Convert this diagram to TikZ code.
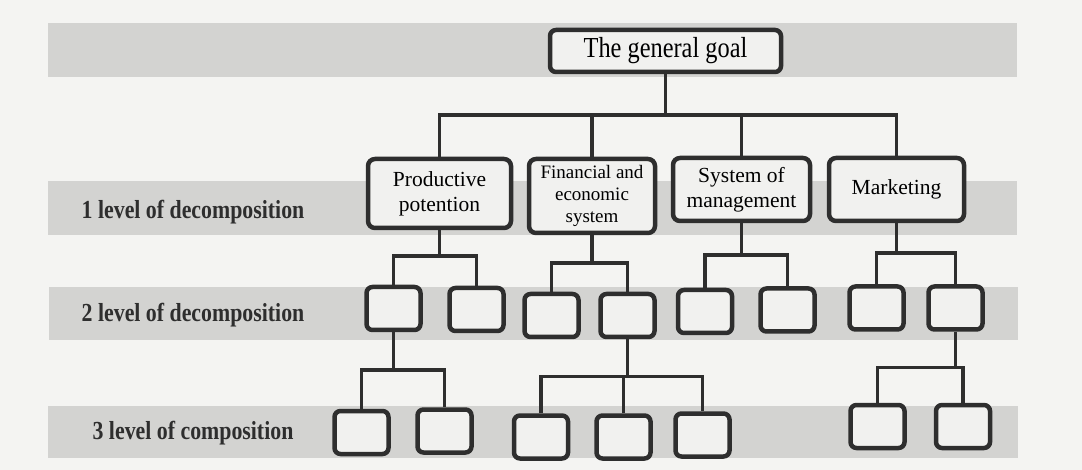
\documentclass[tikz,border=0pt]{standalone}
\usepackage{fontspec}
\setmainfont{Liberation Serif}
\newfontfamily\narrowserif[FakeStretch=0.84]{Liberation Serif}
\usepackage{tikz}
\usetikzlibrary{positioning}
\definecolor{ChartInk}{HTML}{2E2E2E}
\definecolor{ChartPaper}{HTML}{F4F4F2}
\definecolor{ChartBand}{HTML}{D3D3D1}
\definecolor{ChartBox}{HTML}{F1F1EF}
\tikzset{
  goalbox/.style={draw=ChartInk,line width=4.5pt,rounded corners=6pt,fill=ChartBox,inner sep=0pt,align=center,font=\narrowserif\fontsize{29}{32}\selectfont},
  areabox/.style={draw=ChartInk,line width=4.5pt,rounded corners=7pt,fill=ChartBox,inner sep=0pt,align=center,font=\fontsize{21.5}{25}\selectfont},
  subbox/.style={draw=ChartInk,line width=4.5pt,rounded corners=6pt,fill=ChartBox,minimum width=54pt,minimum height=43pt},
  treeline/.style={draw=ChartInk,line width=3.5pt},
  band/.style={fill=ChartBand},
  levellabel/.style={font=\narrowserif\bfseries\fontsize{26}{28}\selectfont,text=ChartInk}
}

\begin{document}
\begin{tikzpicture}[x=1pt,y=-1pt]
  % page and the grey strips behind each level
  \fill[ChartPaper] (0,0) rectangle (1082,470);
  \useasboundingbox (0,0) rectangle (1082,470);
  \fill[band] (48,23) rectangle (1017,77);
  \fill[band] (48,181) rectangle (1017,235);
  \fill[band] (49,287) rectangle (1018,340);
  \fill[band] (48,406) rectangle (1018,458);

  \node[levellabel] (lvlone) at (193,212) {1 level of decomposition};
  \node[levellabel] (lvltwo) at (193,315) {2 level of decomposition};
  \node[levellabel] (lvlthree) at (193,433) {3 level of composition};

  \node[goalbox,minimum width=231pt,minimum height=42pt] (goal) at (665.5,51) {The general goal};

  \node[areabox,minimum width=143pt,minimum height=69pt] (prod) at (439.5,193.5) {Productive\\potention};
  \node[areabox,minimum width=126pt,minimum height=74pt,font=\fontsize{19}{22}\selectfont] (fin) at (592,196)
    {Financial and\\economic\\system};
  \node[areabox,minimum width=137pt,minimum height=63pt] (sys) at (741.5,189.5) {System of\\management};
  \node[areabox,minimum width=135pt,minimum height=63pt] (mkt) at (896.5,189.5) {Marketing};

  \node[subbox] (prodA) at (393.5,308.5) {};
  \node[subbox] (prodB) at (476.5,309.5) {};
  \node[subbox] (finC) at (551.5,315.5) {};
  \node[subbox] (finD) at (627.5,315.5) {};
  \node[subbox] (sysE) at (705,311.5) {};
  \node[subbox] (sysF) at (787.5,310) {};
  \node[subbox] (mktG) at (876.5,308) {};
  \node[subbox] (mktH) at (955.5,308) {};

  \node[subbox] (prodA1) at (361.5,432.5) {};
  \node[subbox] (prodA2) at (444.5,431) {};
  \node[subbox] (finD1) at (541,437) {};
  \node[subbox] (finD2) at (623.5,437) {};
  \node[subbox] (finD3) at (702.5,435) {};
  \node[subbox] (mktH1) at (877.5,426.5) {};
  \node[subbox] (mktH2) at (963,426.5) {};

  \coordinate (topbus) at (666,115);
  \draw[treeline] (goal.south) -- (goal.south |- topbus);
  \draw[treeline] (prod.north) |- (topbus) -| (mkt.north);
  \draw[treeline] (fin.north) -- (fin.north |- topbus);
  \draw[treeline] (sys.north) -- (sys.north |- topbus);

  \draw[treeline] (prod.south) -- ++(0,26) coordinate (prodbus);
  \draw[treeline] (prodA.north) |- (prodbus) -| (prodB.north);
  \draw[treeline] (fin.south) -- ++(0,28) coordinate (finbus);
  \draw[treeline] (finC.north) |- (finbus) -| (finD.north);
  \draw[treeline] (sys.south) -- ++(0,32) coordinate (sysbus);
  \draw[treeline] (sysE.north) |- (sysbus) -| (sysF.north);
  \draw[treeline] (mkt.south) -- ++(0,30) coordinate (mktbus);
  \draw[treeline] (mktG.north) |- (mktbus) -| (mktH.north);

  \draw[treeline] (prodA.south) -- ++(0,38) coordinate (prodAbus);
  \draw[treeline] (prodA1.north) |- (prodAbus) -| (prodA2.north);
  \draw[treeline] (finD.south) -- ++(0,37) coordinate (finDbus);
  \draw[treeline] (finD1.north) |- (finDbus) -| (finD3.north);
  \draw[treeline] (finD2.north) -- (finD2.north |- finDbus);
  \draw[treeline] (mktH.south) -- ++(0,36) coordinate (mktHbus);
  \draw[treeline] (mktH1.north) |- (mktHbus) -| (mktH2.north);
\end{tikzpicture}
\end{document}
